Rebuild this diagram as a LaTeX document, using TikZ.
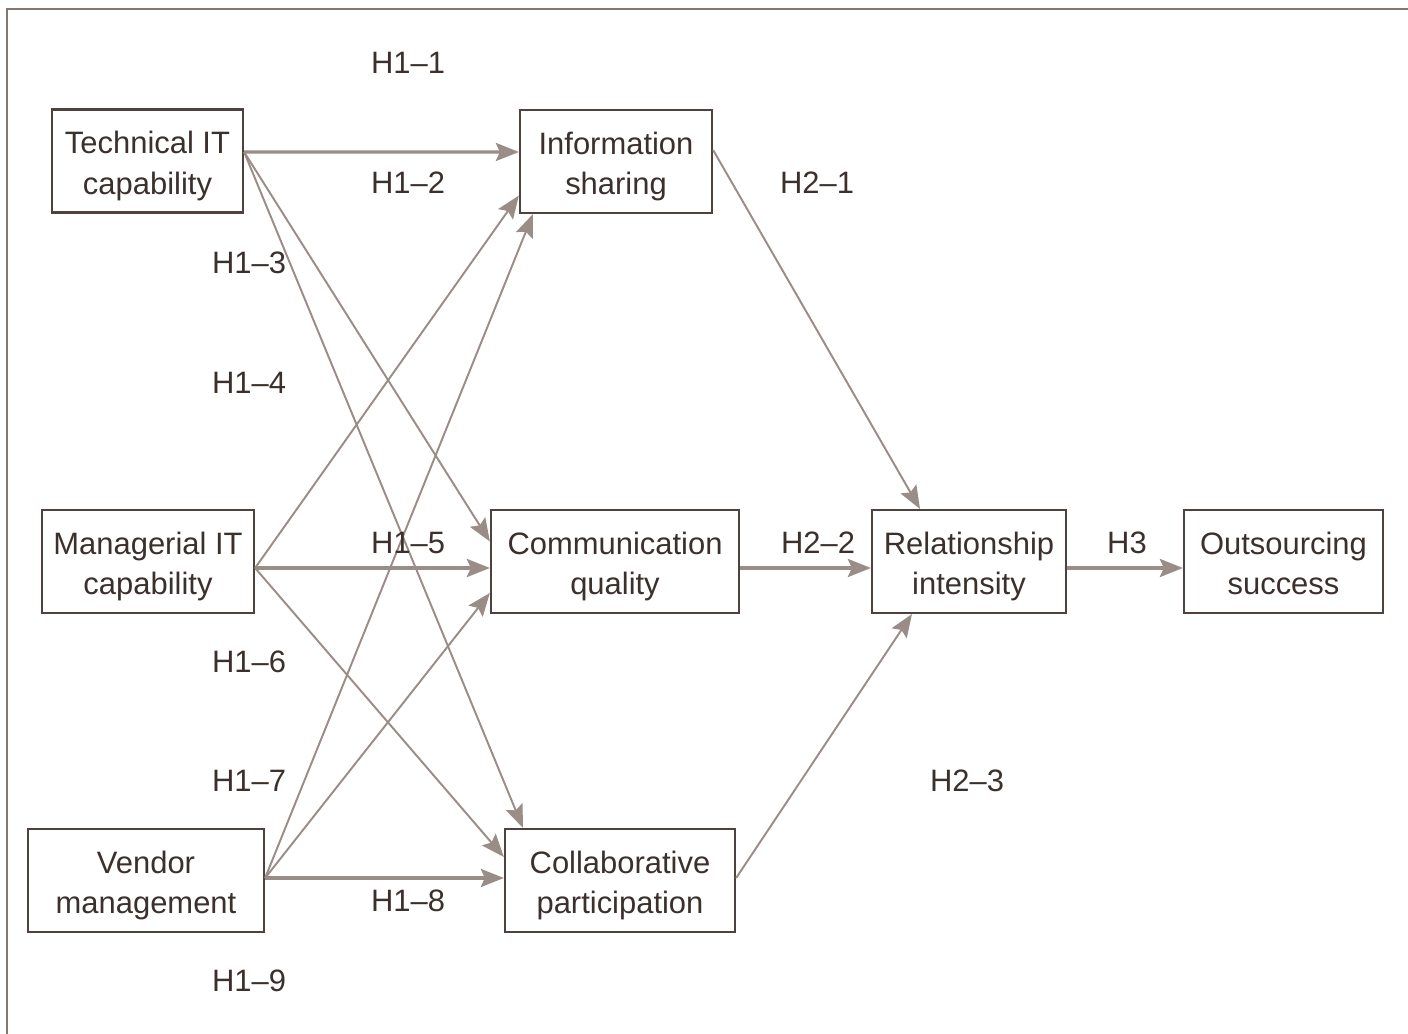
\documentclass[tikz,border=0pt]{standalone}
\usepackage{fontspec}
\setmainfont{Liberation Sans}
\usetikzlibrary{arrows.meta, positioning, calc}
\usepackage{xcolor}
\definecolor{boxbrown}{HTML}{4E423E}
\definecolor{arrowtaupe}{HTML}{9A8C86}
\definecolor{textbrown}{HTML}{3B302C}
\definecolor{framegrey}{HTML}{857873}
\tikzset{
  construct/.style={rectangle, draw=boxbrown, line width=0.6pt, fill=white,
                    minimum height=1.03cm, inner sep=2pt, align=center,
                    text height=20.8pt, text depth=2pt,
                    font=\fontsize{8.8}{11.4}\selectfont, text=textbrown},
  hyplink/.style={-{Stealth[length=2.3mm,width=1.8mm,inset=0.4mm]},
                  line width=0.55pt, draw=arrowtaupe},
  mainlink/.style={hyplink, line width=0.9pt},
  hyplabel/.style={font=\fontsize{8.8}{11.4}\selectfont, text=textbrown, inner sep=1pt},
}

\begin{document}
\begin{tikzpicture}[x=0.01cm, y=-0.01cm]
  \useasboundingbox (0,0) rectangle (1408,1034);

  % --- Outer frame (cut off right and below) ---
  \draw[draw=framegrey, line width=0.6pt] (1420,9) -- (7,9) -- (7,1045);

  % --- Antecedents ---
  \node[construct, minimum width=1.91cm] (tech)   at (147.5,161)   {Technical IT\\capability};
  \node[construct, minimum width=2.12cm] (manag)  at (148,561.5)   {Managerial IT\\capability};
  \node[construct, minimum width=2.36cm] (vendor) at (146,880.5)   {Vendor\\management};

  % --- Mediators ---
  \node[construct, minimum width=1.92cm] (info)   at (616,161.5)   {Information\\sharing};
  \node[construct, minimum width=2.48cm] (comm)   at (615,561.5)   {Communication\\quality};
  \node[construct, minimum width=2.30cm] (collab) at (620,880.5)   {Collaborative\\participation};

  % --- Outcomes ---
  \node[construct, minimum width=1.94cm] (rel)    at (969,561.5)   {Relationship\\intensity};
  \node[construct, minimum width=1.99cm] (succ)   at (1283.5,561.5) {Outsourcing\\success};

  % Ports on the box edges
  \coordinate (techout)   at ([yshift=0.09cm]tech.east);
  \coordinate (managout)  at ([yshift=-0.065cm]manag.east);
  \coordinate (vendorout) at ([yshift=0.025cm]vendor.east);

  % H1 paths
  \draw[mainlink] (techout) -- ([yshift=0.095cm]info.west);
  \draw[hyplink]  (techout) -- ([yshift=0.2cm]comm.west);
  \draw[hyplink]  (techout) -- ([xshift=-0.97cm]collab.north);
  \draw[hyplink]  (managout) -- ([yshift=-0.34cm]info.west);
  \draw[mainlink] (managout) -- ([yshift=-0.065cm]comm.west);
  \draw[hyplink]  (managout) -- ([yshift=0.235cm]collab.west);
  \draw[hyplink]  (vendorout) -- ([xshift=-0.83cm]info.south);
  \draw[hyplink]  (vendorout) -- ([yshift=-0.315cm]comm.west);
  \draw[mainlink] (vendorout) -- ([yshift=0.025cm]collab.west);

  % H2 and H3 paths
  \draw[hyplink]  ([yshift=0.115cm]info.east) -- ([xshift=-0.49cm]rel.north);
  \draw[mainlink] ([yshift=-0.065cm]comm.east) -- ([yshift=-0.065cm]rel.west);
  \draw[hyplink]  ([yshift=0.025cm]collab.east) -- ([xshift=-0.57cm]rel.south);
  \draw[mainlink] ([yshift=-0.065cm]rel.east) -- ([yshift=-0.065cm]succ.west);

  % --- Hypothesis labels ---
  \node[hyplabel] (h11) at (408,63)  {H1--1};
  \node[hyplabel] (h12) at (408,183) {H1--2};
  \node[hyplabel] (h13) at (249,263) {H1--3};
  \node[hyplabel] (h14) at (249,383) {H1--4};
  \node[hyplabel] (h15) at (408,543) {H1--5};
  \node[hyplabel] (h16) at (249,662) {H1--6};
  \node[hyplabel] (h17) at (249,781) {H1--7};
  \node[hyplabel] (h18) at (408,901) {H1--8};
  \node[hyplabel] (h19) at (249,981) {H1--9};
  \node[hyplabel] (h21) at (817,183) {H2--1};
  \node[hyplabel] (h22) at (818,543) {H2--2};
  \node[hyplabel] (h23) at (967,781) {H2--3};
  \node[hyplabel] (h3)  at (1127,543) {H3};

\end{tikzpicture}
\end{document}
